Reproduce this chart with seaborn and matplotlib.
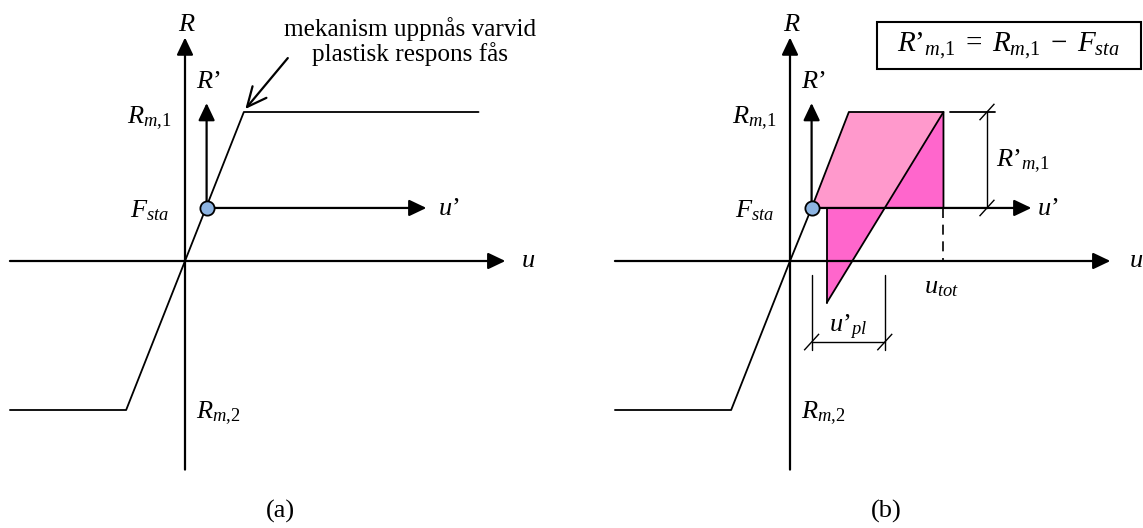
import matplotlib
matplotlib.use("Agg")
import matplotlib.pyplot as plt
from matplotlib.patches import Polygon, Rectangle
import pandas as pd
import seaborn as sns

# ---- resistance curve (displacement u, resistance R, R scaled to R_m,1) ----
u_curve = [-1.175, -0.395, 0.0, 0.395, 1.97]
R_curve = [-1.0, -1.0, 0.0, 1.0, 1.0]

R_m1 = 1.0
u_el = 0.395          # displacement where R_m,1 is reached
F_sta = 0.356         # static load level
u_sta = 0.145         # displacement under static load

# axis extents
u_axis = [-1.175, 2.15]
R_axis = [-1.40, 1.50]
R_prime_top = 1.06
u_prime_end = 1.62

# panel (b): plastic response and elastic unloading
u_tot = 1.03
u_pl_end = 0.636
u_unload_end = 0.247
R_unload_end = -0.28

# dimension lines in panel (b)
u_dim_R = 1.322
u_ext_R = [1.077, 1.374]
R_ext_upl = [-0.094, -0.597]
R_dim_upl = -0.544

LIGHT_PINK = "#FF99CC"
DARK_PINK = "#FF66CC"
DOT_BLUE = "#8DB4E2"
FS = 19

sns.set_theme(style="white")
plt.rcParams["font.family"] = ["Liberation Serif", "DejaVu Serif"]
plt.rcParams["text.color"] = "black"
plt.rcParams["mathtext.fontset"] = "custom"
plt.rcParams["mathtext.it"] = "Liberation Serif:italic"
plt.rcParams["mathtext.rm"] = "Liberation Serif"
plt.rcParams["mathtext.cal"] = "Liberation Serif:italic"

W, H = 1143, 528
SCALE = 149.0  # pixels per unit
fig = plt.figure(figsize=(W / 100, H / 100), dpi=100)
fig.patch.set_facecolor("white")


def make_axes(left_px, width_px, origin_x, origin_y):
    ax = fig.add_axes([left_px / W, 0, width_px / W, 1])
    ax.set_xlim((left_px - origin_x) / SCALE, (left_px + width_px - origin_x) / SCALE)
    ax.set_ylim((origin_y - H) / SCALE, origin_y / SCALE)
    ax.axis("off")
    return ax


def arrow(ax, start, tip, lw=1.6):
    ax.annotate("", xy=tip, xytext=start,
                arrowprops=dict(arrowstyle="-|>,head_length=1.05,head_width=0.5",
                                color="black", lw=lw, shrinkA=0, shrinkB=0,
                                mutation_scale=10),
                annotation_clip=False)


def axes_cross(ax):
    # main u and R axes
    arrow(ax, (u_axis[0], 0), (u_axis[1], 0))
    arrow(ax, (0, R_axis[0]), (0, R_axis[1]))
    # shifted R' and u' axes starting at the static equilibrium point
    arrow(ax, (u_sta, F_sta), (u_sta, R_prime_top))
    arrow(ax, (u_sta, F_sta), (u_prime_end, F_sta))


def common_labels(ax):
    kw = dict(fontsize=FS, va="baseline")
    ax.text(-0.045, 1.546, "$R$", ha="left", **kw)
    ax.text(0.075, 1.16, "$R’$", ha="left", **kw)
    ax.text(-0.09, 0.926, r"$R_{\mathit{m{,}1}}$", ha="right", **kw)
    ax.text(-0.105, 0.295, "$F_{sta}$", ha="right", **kw)
    ax.text(0.075, -1.06, r"$R_{\mathit{m{,}2}}$", ha="left", **kw)


def dot(ax):
    sns.scatterplot(x=[u_sta], y=[F_sta], s=105, color=DOT_BLUE,
                    edgecolor="black", linewidth=1.3, zorder=10, ax=ax,
                    clip_on=False, legend=False)


def slash(ax, x, y, half_u=0.05, half_R=0.055):
    ax.plot([x - half_u, x + half_u], [y - half_R, y + half_R],
            color="black", lw=1.0, solid_capstyle="butt")


# ---------------- panel (a) ----------------
ax_a = make_axes(0, W / 2, 185, 261)
curve_a = pd.DataFrame({"u": u_curve, "R": R_curve})
sns.lineplot(data=curve_a, x="u", y="R", sort=False, color="black", lw=1.3,
             ax=ax_a, estimator=None)
axes_cross(ax_a)
dot(ax_a)
common_labels(ax_a)
ax_a.text(1.70, 0.31, "$u’$", fontsize=FS, ha="left", va="baseline")
ax_a.text(2.255, -0.04, "$u$", fontsize=FS, ha="left", va="baseline")
ax_a.text(1.51, 1.476, "mekanism uppnås varvid\nplastisk respons fås",
          fontsize=18.2, ha="center", va="center", multialignment="center",
          linespacing=1.05)
ax_a.annotate("", xy=(u_el + 0.01, R_m1 + 0.02), xytext=(0.69, 1.362),
              arrowprops=dict(arrowstyle="->,head_length=1.4,head_width=0.65",
                              color="black", lw=1.6, shrinkA=0, shrinkB=0,
                              mutation_scale=10))
ax_a.text(0.638, -1.684, "(a)", fontsize=FS, ha="center", va="center")

# ---------------- panel (b) ----------------
ax_b = make_axes(W / 2, W / 2, 790, 261)
curve_b = pd.DataFrame({"u": u_curve[:3] + [u_sta], "R": R_curve[:3] + [F_sta]})
sns.lineplot(data=curve_b, x="u", y="R", sort=False, color="black", lw=1.3,
             ax=ax_b, estimator=None)

# plastic work region and elastic unloading regions
ax_b.add_patch(Polygon([(u_sta, F_sta), (u_el, R_m1), (u_tot, R_m1), (u_pl_end, F_sta)],
                       closed=True, fc=LIGHT_PINK, ec="none", zorder=1))
ax_b.add_patch(Polygon([(u_tot, R_m1), (u_tot, F_sta), (u_pl_end, F_sta)],
                       closed=True, fc=DARK_PINK, ec="none", zorder=1))
ax_b.add_patch(Polygon([(u_unload_end, F_sta), (u_pl_end, F_sta),
                        (u_unload_end, R_unload_end)],
                       closed=True, fc=DARK_PINK, ec="none", zorder=1))
ax_b.plot([u_sta, u_el, u_tot, u_tot], [F_sta, R_m1, R_m1, F_sta],
          color="black", lw=1.3, zorder=3)
ax_b.plot([u_tot, u_unload_end], [R_m1, R_unload_end], color="black", lw=1.3, zorder=3)
ax_b.plot([u_unload_end, u_unload_end], [F_sta, R_unload_end], color="black",
          lw=1.3, zorder=3)
ax_b.plot([u_tot, u_tot], [F_sta, 0], color="black", lw=1.2,
          linestyle=(0, (6, 4)), zorder=3)

axes_cross(ax_b)
dot(ax_b)
common_labels(ax_b)
ax_b.text(1.655, 0.31, "$u’$", fontsize=FS, ha="left", va="baseline")
ax_b.text(2.275, -0.04, "$u$", fontsize=FS, ha="left", va="baseline")
ax_b.text(0.90, -0.215, "$u_{tot}$", fontsize=FS, ha="left", va="baseline")

# dimension for R'_m,1
ax_b.plot(u_ext_R, [R_m1, R_m1], color="black", lw=1.3)
ax_b.plot([u_dim_R, u_dim_R], [F_sta, R_m1], color="black", lw=1.0)
slash(ax_b, u_dim_R, R_m1)
slash(ax_b, u_dim_R, F_sta)
ax_b.text(1.385, 0.633, r"$R’_{\mathit{m{,}1}}$", fontsize=FS, ha="left", va="baseline")

# dimension for u'_pl
for x in (u_sta, u_pl_end):
    ax_b.plot([x, x], R_ext_upl, color="black", lw=1.0)
    slash(ax_b, x, R_dim_upl)
ax_b.plot([u_sta, u_pl_end], [R_dim_upl, R_dim_upl], color="black", lw=1.0)
ax_b.text((u_sta + u_pl_end) / 2, -0.477, "$u’_{pl}$", fontsize=FS,
          ha="center", va="baseline")

# formula box
ax_b.add_patch(Rectangle((0.584, 1.289), 1.772, 0.315, fc="white", ec="black",
                         lw=1.5, clip_on=False, zorder=2))
ax_b.text(1.463, 1.443,
          r"$R’_{\mathit{m{,}1}}\;=\;R_{\mathit{m{,}1}}\;−\;F_{sta}$",
          fontsize=21, ha="center", va="center", zorder=4)
ax_b.text(0.644, -1.684, "(b)", fontsize=FS, ha="center", va="center")

fig.savefig("out.png", dpi=100, facecolor="white")
